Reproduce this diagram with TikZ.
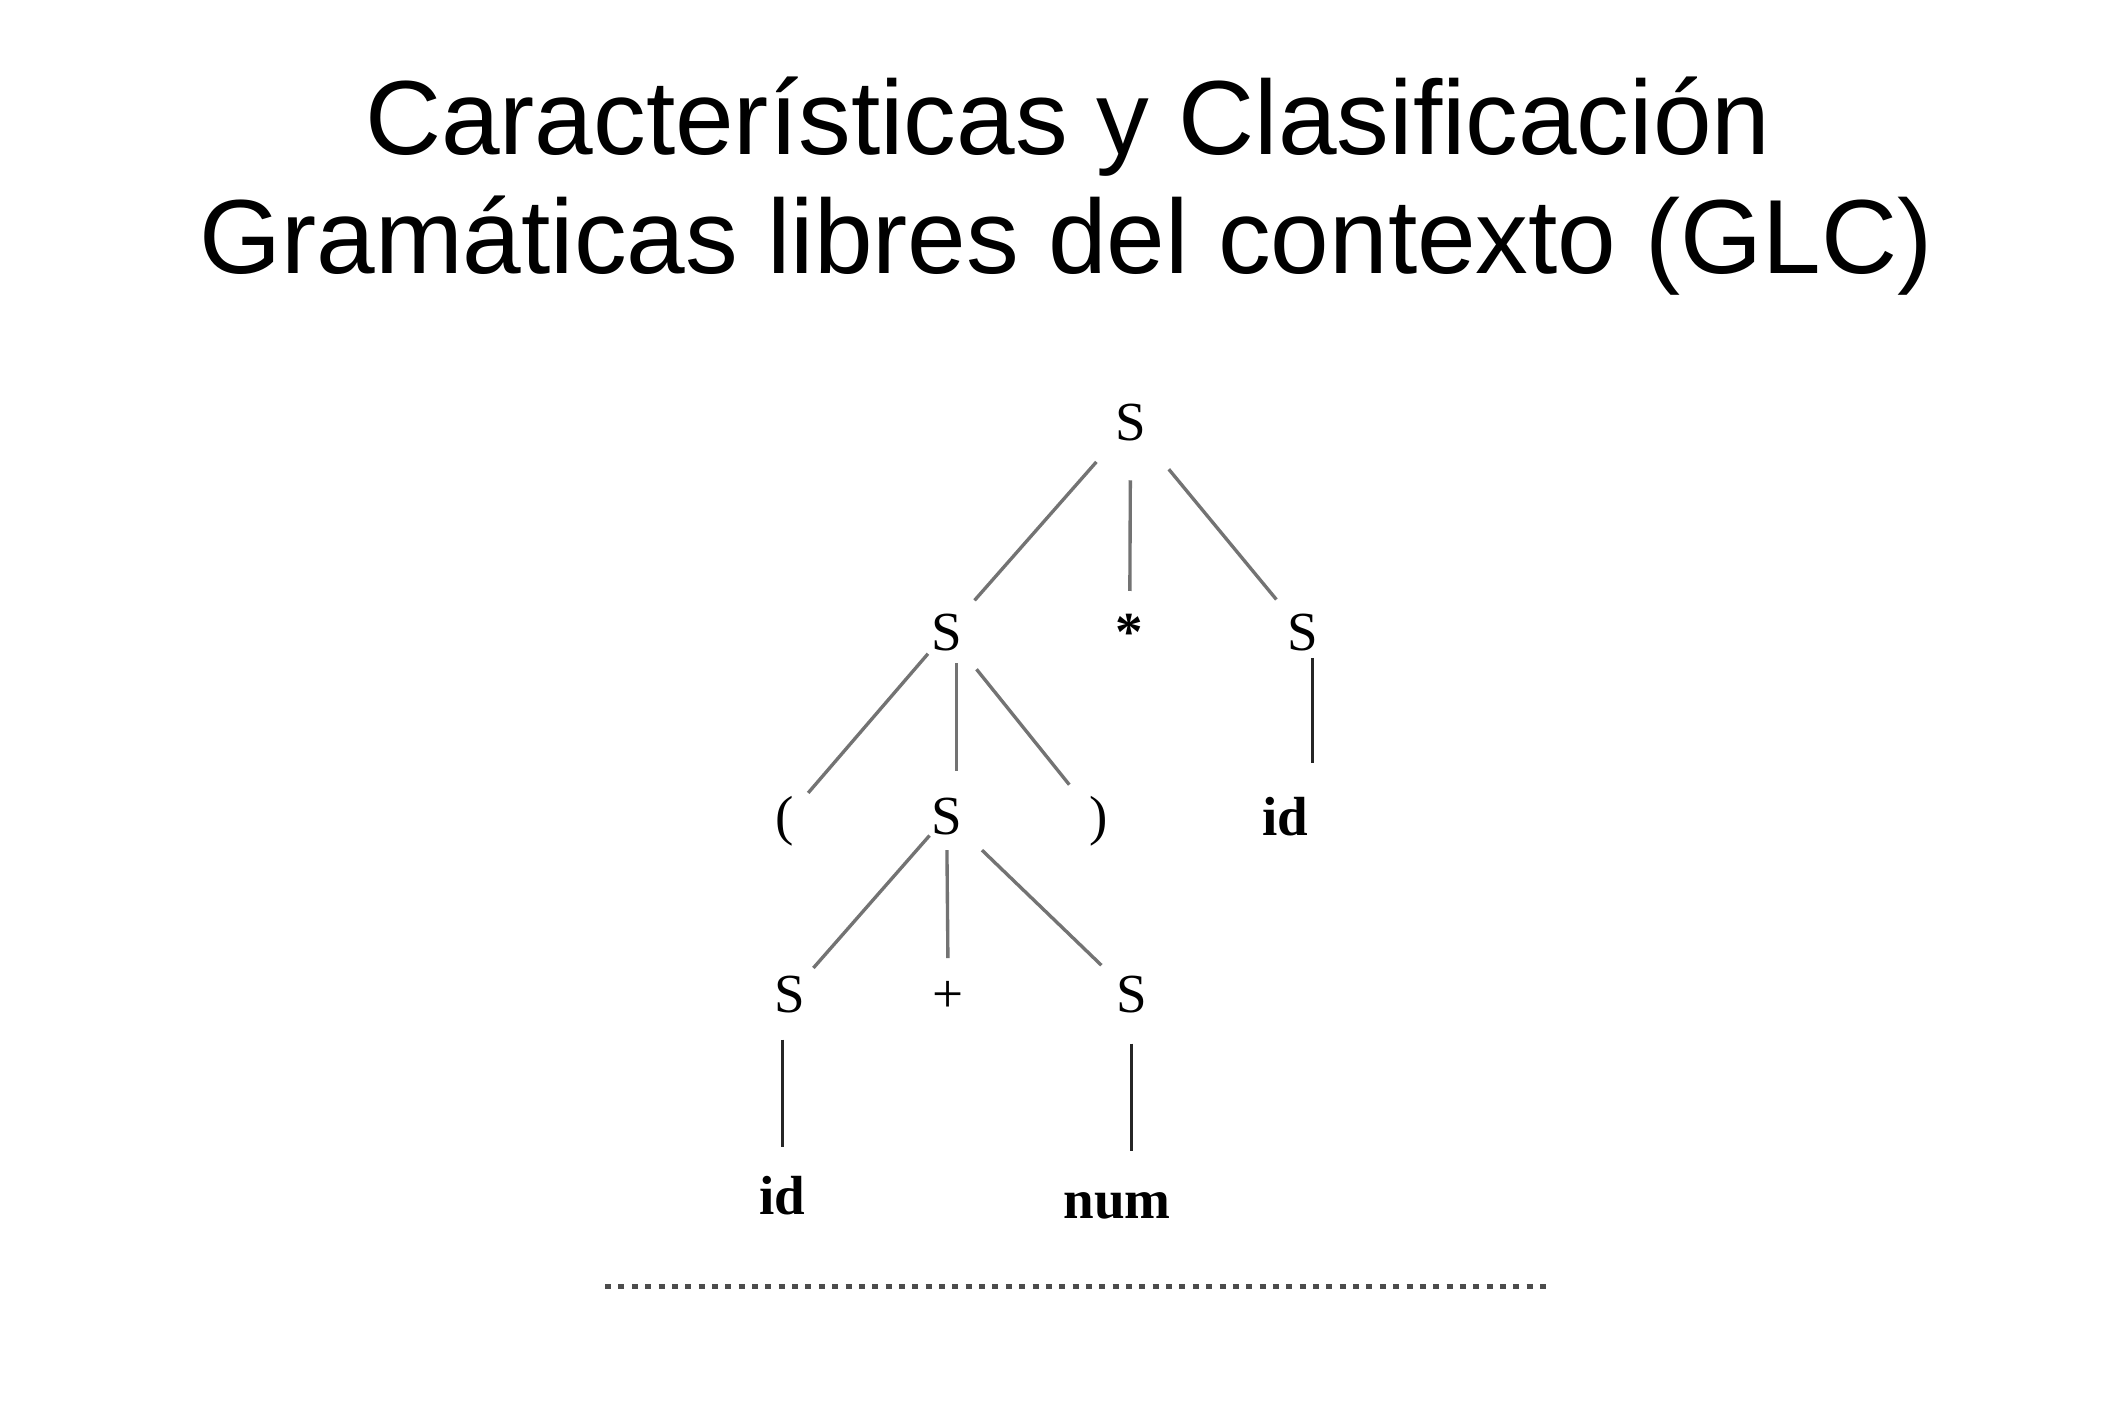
\documentclass[tikz,border=0pt]{standalone}
\usepackage{fontspec}
\setmainfont{Liberation Sans}
\newfontfamily\treefont{Liberation Serif}
\begin{document}
\begin{tikzpicture}[
        heading/.style={anchor=base, inner sep=0pt, font=\fontsize{22}{26}\selectfont},
        sym/.style={anchor=base, inner sep=0pt, font=\treefont\fontsize{11.5}{12}\selectfont},
        word/.style={sym, font=\treefont\bfseries\fontsize{11.5}{12}\selectfont},
        edge/.style={draw=black!55, line width=0.7pt},
        stem/.style={draw=black!85, line width=0.65pt}]

            \fill[white] (0,0) rectangle (15.6,10.4);
            \useasboundingbox (0,0) rectangle (15.6,10.4);

            \node[heading] (titleA) at (7.835,9.263) {Características y Clasificación};
            \node[heading] (titleB) at (7.823,8.395) {Gramáticas libres del contexto (GLC)};

            % tree
            \node[sym] (root) at (8.296,7.164) {S};

            \node[sym] (L) at (6.946,5.63) {S}; \node[word] (star) at (8.289,5.63) {*};
            \node[sym] (R) at (9.563,5.63) {S};

            \node[sym] (lp) at (5.754,4.28) {(}; \node[sym] (M) at (6.946,4.28) {S};
            \node[sym] (rp) at (8.059,4.28) {)}; \node[word] (id1) at (9.431,4.27) {id};

            \node[sym] (S4a) at (5.797,2.97) {S}; \node[sym] (plus) at (6.958,2.97) {+};
            \node[sym] (S4b) at (8.305,2.97) {S};

            \node[word] (id2) at (5.739,1.49) {id}; \node[word] (num) at (8.197,1.46) {num};

            \foreach \a/\b/\s/\e in {root/L/0.38cm/0.31cm, root/star/0.42cm/0.30cm, root/R/0.44cm/0.31cm,
                                     L/lp/0.21cm/0.27cm, L/rp/0.35cm/0.34cm,
                                     M/S4a/0.19cm/0.26cm, M/plus/0.25cm/0.285cm, M/S4b/0.36cm/0.31cm} {
                \draw[edge, shorten <=\s, shorten >=\e] (\a.center) -- (\b.center);
            }

            \draw[edge, shorten <=0.23cm, shorten >=0.33cm] ([xshift=0.07cm]L.center) -- ([xshift=0.07cm]M.center);
            \draw[stem, shorten <=0.19cm, shorten >=0.39cm] ([xshift=0.07cm]R.center) -- ([xshift=0.07cm]R.center |- id1.center);
            \draw[stem, shorten <=0.33cm, shorten >=0.355cm] (id2 |- S4a) -- (id2.center);
            \draw[stem, shorten <=0.36cm, shorten >=0.405cm] (S4b.center) -- (S4b |- num);

            \draw[black!70, line width=0.04cm, dash pattern=on 0.044cm off 0.054cm] (4.44,0.958) -- (11.38,0.958);
        \end{tikzpicture}
\end{document}
